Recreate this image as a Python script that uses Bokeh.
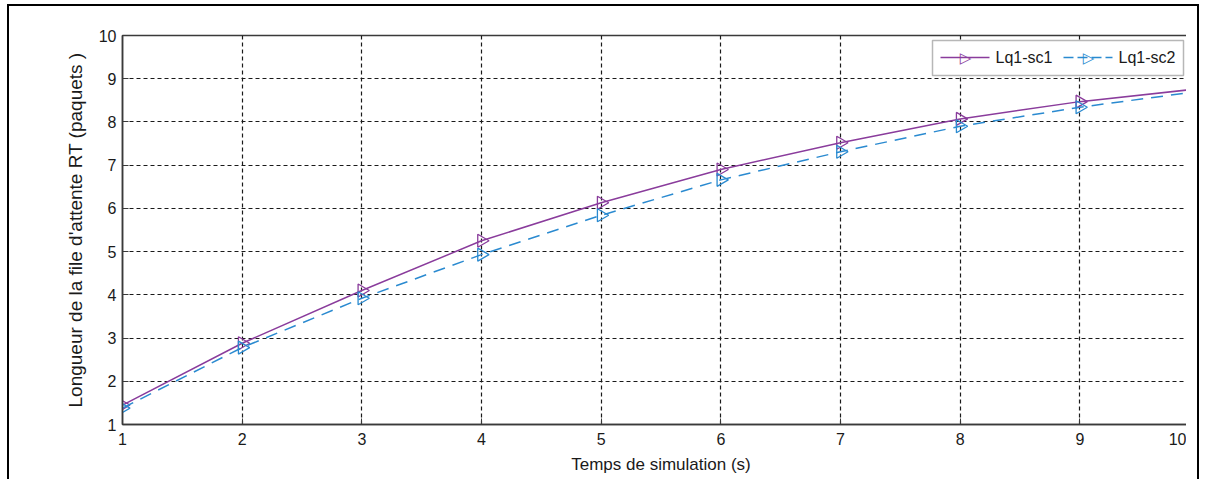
import numpy as np
from bokeh.plotting import figure
from bokeh.models import Range1d, FixedTicker, BoxAnnotation, Arrow, Label
from bokeh.embed import file_html
from bokeh.resources import INLINE

# ---- data ----
time_s = [1, 2, 3, 4, 5, 6, 7, 8, 9, 10]
lq1_sc1 = [1.45, 2.88, 4.10, 5.25, 6.13, 6.90, 7.52, 8.07, 8.47, 8.77]
lq1_sc2 = [1.38, 2.78, 3.92, 4.93, 5.84, 6.66, 7.31, 7.90, 8.34, 8.71]
series_names = ["Lq1-sc1", "Lq1-sc2"]
x_ticks = [1, 2, 3, 4, 5, 6, 7, 8, 9, 10]
y_ticks = [1, 2, 3, 4, 5, 6, 7, 8, 9, 10]

FONT = "Liberation Sans"
PURPLE = "#8a3c9c"
BLUE = "#2a8ad0"
AX = "#3a3a3a"
TXT = "#1a1a1a"

p = figure(width=1192, height=475, output_backend="svg", toolbar_location=None,
           x_range=Range1d(1, 10), y_range=Range1d(1, 10),
           min_border_left=113, min_border_right=2, min_border_top=29, min_border_bottom=57,
           x_axis_label="Temps de simulation (s)",
           y_axis_label="Longueur de la file d'attente RT (paquets )")
p.styles = {"border-left": "2px solid black", "border-top": "2px solid black",
            "border-right": "2px solid black", "padding-right": "11px",
            "margin-left": "7px", "margin-top": "4px"}
p.background_fill_color = "white"
p.border_fill_color = "white"
p.outline_line_color = AX
p.outline_line_width = 1.5

for ax in (p.xaxis[0], p.yaxis[0]):
    ax.axis_line_color = AX
    ax.axis_line_width = 1.5
    ax.major_tick_in = 6
    ax.major_tick_out = 0
    ax.minor_tick_line_color = None
    ax.major_tick_line_color = AX
    ax.major_label_text_font = FONT
    ax.major_label_text_font_size = "16px"
    ax.major_label_text_color = TXT
    ax.axis_label_text_font = FONT
    ax.axis_label_text_font_style = "normal"
    ax.axis_label_text_color = TXT

p.xaxis[0].axis_label_text_font_size = "17px"
p.yaxis[0].axis_label_text_font_size = "19px"
p.xaxis[0].ticker = FixedTicker(ticks=x_ticks)
p.yaxis[0].ticker = FixedTicker(ticks=y_ticks)
p.xaxis[0].major_label_standoff = 8
p.yaxis[0].major_label_standoff = 6
p.xaxis[0].axis_label_standoff = 7
p.yaxis[0].axis_label_standoff = 10

p.grid.grid_line_color = "#1a1a1a"
p.grid.grid_line_dash = "4 3"
p.grid.grid_line_width = 1.2
p.xgrid.ticker = FixedTicker(ticks=x_ticks)
p.ygrid.ticker = FixedTicker(ticks=y_ticks)

p.line(time_s, lq1_sc1, line_color=PURPLE, line_width=1.5)
p.scatter(time_s, lq1_sc1, marker="triangle", angle=-np.pi / 2, size=13,
          fill_color=None, line_color=PURPLE, line_width=1.3)
p.line(time_s, lq1_sc2, line_color=BLUE, line_width=1.5, line_dash="12 8")
p.scatter(time_s, lq1_sc2, marker="triangle", angle=-np.pi / 2, size=13,
          fill_color=None, line_color=BLUE, line_width=1.3)

# ---- legend drawn in frame-relative screen units (x from left, y from bottom) ----
p.add_layout(BoxAnnotation(left=810, right=1061, top=384, bottom=349,
                           left_units="screen", right_units="screen",
                           top_units="screen", bottom_units="screen",
                           fill_color="white", fill_alpha=1,
                           line_color="#111111", line_width=1.5, level="annotation"))
LEG_Y = 367
legend_specs = [(818, series_names[0], PURPLE, "solid"),
                (941, series_names[1], BLUE, "10 4")]
for x0, name, col, dash in legend_specs:
    p.add_layout(Arrow(end=None, x_start=x0, x_end=x0 + 49, y_start=LEG_Y, y_end=LEG_Y,
                       start_units="screen", end_units="screen",
                       line_color=col, line_width=1.5, line_dash=dash, level="annotation"))
    p.add_layout(Label(x=x0 + 25, y=LEG_Y, x_units="screen", y_units="screen", text="▷",
                       text_font="DejaVu Sans", text_font_size="15px", text_color=col,
                       text_align="center", text_baseline="middle", level="annotation"))
    p.add_layout(Label(x=x0 + 55, y=LEG_Y, x_units="screen", y_units="screen", text=name,
                       text_font=FONT, text_font_size="16px", text_color=TXT,
                       text_align="left", text_baseline="middle", level="annotation"))

open("out.html", "w").write(file_html(p, INLINE))
